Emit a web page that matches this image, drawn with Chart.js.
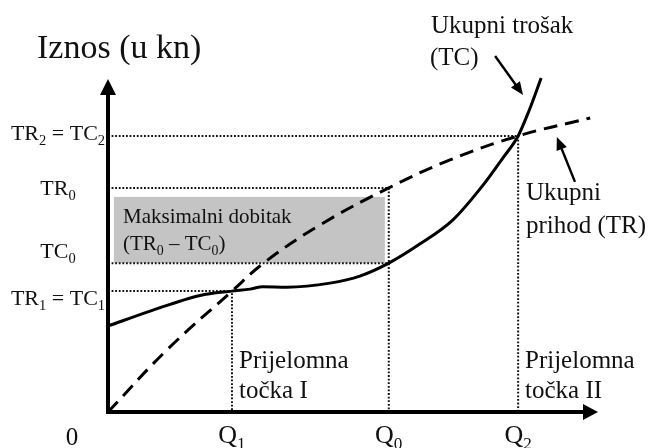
<!DOCTYPE html>
<html>
<head>
<meta charset="utf-8">
<script src="https://cdn.jsdelivr.net/npm/chart.js@4.4.0/dist/chart.umd.min.js"></script>
<style>
  html, body { margin: 0; padding: 0; background: #fff; }
  canvas { display: block; }
</style>
</head>
<body>
<canvas id="c" width="652" height="448"></canvas>
<script>
// Quantity (x) and amount (y) both run 0–100 in arbitrary units.

// Total revenue curve (TR)
const trQuantity = [0, 12, 25.3, 32, 43.3, 57.3, 69.8, 83.7, 98.4];
const trAmount   = [0, 18.6, 36.3, 45, 56.2, 67.3, 75.7, 82.9, 88.3];

// Total cost curve (TC)
const tcQuantity = [0, 8.6, 18.8, 25.3, 29.0, 31.6, 36.5, 45.3, 51.4, 57.3, 63.7, 70.4, 76.9, 80.6, 83.7, 85.9, 88.4];
const tcAmount   = [25.8, 30.3, 35.0, 36.3, 36.9, 37.6, 37.5, 38.7, 40.8, 44.7, 50.5, 57.7, 68.8, 76.3, 82.9, 90.4, 100.3];

// Marked quantities: Q1, Q0, Q2
const quantityTicks  = [25.3, 57.3, 83.7];
const quantityLabels = ['Q_1', 'Q_0', 'Q_2'];
const originLabel = '0';

// Marked amounts: TR2 = TC2, TR0, TC0, TR1 = TC1
const amountTicks  = [82.9, 67.3, 44.7, 36.3];
const amountLabels = ['TR_2 = TC_2', 'TR_0', 'TC_0', 'TR_1 = TC_1'];

// Shaded maximum-profit band
const profitQuantity = [1.2, 56.5];
const profitAmount   = [44.7, 64.6];

// Pointer arrows to the curve names: [tail, tip]
const tcPointer = [[79.0, 106.9], [84.7, 95.2]];
const trPointer = [[95.3, 69.1], [91.6, 82.6]];

const toPoints = (xs, ys) => xs.map((x, i) => ({ x, y: ys[i] }));

const [q1, q0, q2] = quantityTicks;
const [a2, a0, c0, a1] = amountTicks;

const guide = pts => ({
  data: pts.map(([x, y]) => ({ x, y })),
  borderColor: '#111',
  borderWidth: 2,
  borderDash: [1.8, 1.8],
  tension: 0,
  pointRadius: 0,
  fill: false,
  order: 3
});

const FONT = '"Liberation Serif", "Times New Roman", serif';

function drawRich(ctx, str, x, y, size, align) {
  const parts = [];
  let buf = '';
  for (let i = 0; i < str.length; i++) {
    if (str[i] === '_') {
      if (buf) parts.push({ t: buf, sub: false });
      buf = '';
      parts.push({ t: str[i + 1], sub: true });
      i++;
    } else buf += str[i];
  }
  if (buf) parts.push({ t: buf, sub: false });
  const subSize = size * 0.66;
  let w = 0;
  parts.forEach(p => {
    ctx.font = `${p.sub ? subSize : size}px ${FONT}`;
    p.w = ctx.measureText(p.t).width;
    w += p.w;
  });
  let cx = align === 'center' ? x - w / 2 : align === 'right' ? x - w : x;
  ctx.textAlign = 'left';
  ctx.textBaseline = 'alphabetic';
  parts.forEach(p => {
    ctx.font = `${p.sub ? subSize : size}px ${FONT}`;
    ctx.fillText(p.t, cx, p.sub ? y + size * 0.22 : y);
    cx += p.w;
  });
}

function arrow(ctx, x1, y1, x2, y2, lw, len, half) {
  const a = Math.atan2(y2 - y1, x2 - x1);
  const bx = x2 - len * Math.cos(a), by = y2 - len * Math.sin(a);
  ctx.lineWidth = lw;
  ctx.beginPath();
  ctx.moveTo(x1, y1);
  ctx.lineTo(bx + Math.cos(a), by + Math.sin(a));
  ctx.stroke();
  ctx.beginPath();
  ctx.moveTo(x2, y2);
  ctx.lineTo(bx - half * Math.sin(a), by + half * Math.cos(a));
  ctx.lineTo(bx + half * Math.sin(a), by - half * Math.cos(a));
  ctx.closePath();
  ctx.fill();
}

const breakEvenPlugin = {
  id: 'breakEven',
  beforeDatasetsDraw(chart) {
    const { ctx, scales: { x, y } } = chart;
    const l = x.getPixelForValue(profitQuantity[0]);
    const r = x.getPixelForValue(profitQuantity[1]);
    const b = y.getPixelForValue(profitAmount[0]);
    const t = y.getPixelForValue(profitAmount[1]);
    ctx.save();
    ctx.fillStyle = '#c4c4c4';
    ctx.fillRect(l, t, r - l, b - t);
    ctx.restore();
  },
  afterDatasetsDraw(chart) {
    const { ctx, chartArea, scales: { x, y } } = chart;
    const x0 = x.getPixelForValue(0);
    const y0 = y.getPixelForValue(0);
    ctx.save();
    ctx.strokeStyle = '#000';
    ctx.fillStyle = '#000';
    ctx.lineCap = 'butt';

    // Axes with arrowheads
    ctx.lineWidth = 4;
    ctx.beginPath();
    ctx.moveTo(x0, y0 + 2);
    ctx.lineTo(x0, chartArea.top + 12);
    ctx.moveTo(x0 - 2, y0);
    ctx.lineTo(chartArea.right - 12, y0);
    ctx.stroke();
    ctx.beginPath();
    ctx.moveTo(x0, chartArea.top);
    ctx.lineTo(x0 - 8, chartArea.top + 16);
    ctx.lineTo(x0 + 8, chartArea.top + 16);
    ctx.closePath();
    ctx.fill();
    ctx.beginPath();
    ctx.moveTo(chartArea.right, y0);
    ctx.lineTo(chartArea.right - 15, y0 - 8);
    ctx.lineTo(chartArea.right - 15, y0 + 8);
    ctx.closePath();
    ctx.fill();

    // Pointers to the curve names
    [tcPointer, trPointer].forEach(([[tx, ty], [hx, hy]]) => {
      arrow(ctx, x.getPixelForValue(tx), y.getPixelForValue(ty),
        x.getPixelForValue(hx), y.getPixelForValue(hy), 2.4, 13, 5.5);
    });

    ctx.fillStyle = '#111';
    // Axis title
    ctx.font = `34px ${FONT}`;
    ctx.textAlign = 'left';
    ctx.textBaseline = 'alphabetic';
    ctx.fillText('Iznos (u kn)', 37, 58);

    // Amount labels
    const amountDy = [4, 7, -5, 14];
    amountLabels.forEach((lab, i) => {
      drawRich(ctx, lab, 58, y.getPixelForValue(amountTicks[i]) + amountDy[i], 22, 'center');
    });

    // Quantity labels
    quantityLabels.forEach((lab, i) => {
      drawRich(ctx, lab, x.getPixelForValue(quantityTicks[i]), y0 + 31, 26, 'center');
    });
    drawRich(ctx, originLabel, x0 - 36, y0 + 33, 25, 'center');

    // Curve names and break-even notes
    ctx.font = `25px ${FONT}`;
    ctx.fillText('Ukupni trošak', 431, 33);
    ctx.fillText('(TC)', 430, 65);
    ctx.fillText('Ukupni', 526, 200);
    ctx.fillText('prihod (TR)', 526, 233);
    ctx.fillText('Prijelomna', 239, 368);
    ctx.fillText('točka I', 239, 398);
    ctx.fillText('Prijelomna', 525, 368);
    ctx.fillText('točka II', 525, 398);

    // Profit band caption
    ctx.font = `21px ${FONT}`;
    ctx.fillText('Maksimalni dobitak', 123, 223);
    drawRich(ctx, '(TR_0 – TC_0)', 123, 250, 21, 'left');
    ctx.restore();
  }
};

new Chart(document.getElementById('c'), {
  type: 'line',
  data: {
    datasets: [
      {
        label: 'Ukupni trošak (TC)',
        data: toPoints(tcQuantity, tcAmount),
        borderColor: '#000',
        borderWidth: 3,
        cubicInterpolationMode: 'monotone',
        pointRadius: 0,
        fill: false,
        order: 1
      },
      {
        label: 'Ukupni prihod (TR)',
        data: toPoints(trQuantity, trAmount),
        borderColor: '#000',
        borderWidth: 3,
        borderDash: [14, 8],
        tension: 0.4,
        pointRadius: 0,
        fill: false,
        order: 2
      },
      guide([[0, a1], [q1, a1], [q1, 0]]),
      guide([[0, a0], [q0, a0], [q0, 0]]),
      guide([[0, c0], [q0, c0]]),
      guide([[0, a2], [q2, a2], [q2, 0]])
    ]
  },
  options: {
    responsive: false,
    animation: false,
    clip: false,
    layout: { padding: { left: 108, right: 54, top: 79, bottom: 36 } },
    scales: {
      x: { type: 'linear', min: 0, max: 100, display: false },
      y: { type: 'linear', min: 0, max: 100, display: false }
    },
    plugins: { legend: { display: false }, tooltip: { enabled: false } }
  },
  plugins: [breakEvenPlugin]
});
</script>
</body>
</html>
